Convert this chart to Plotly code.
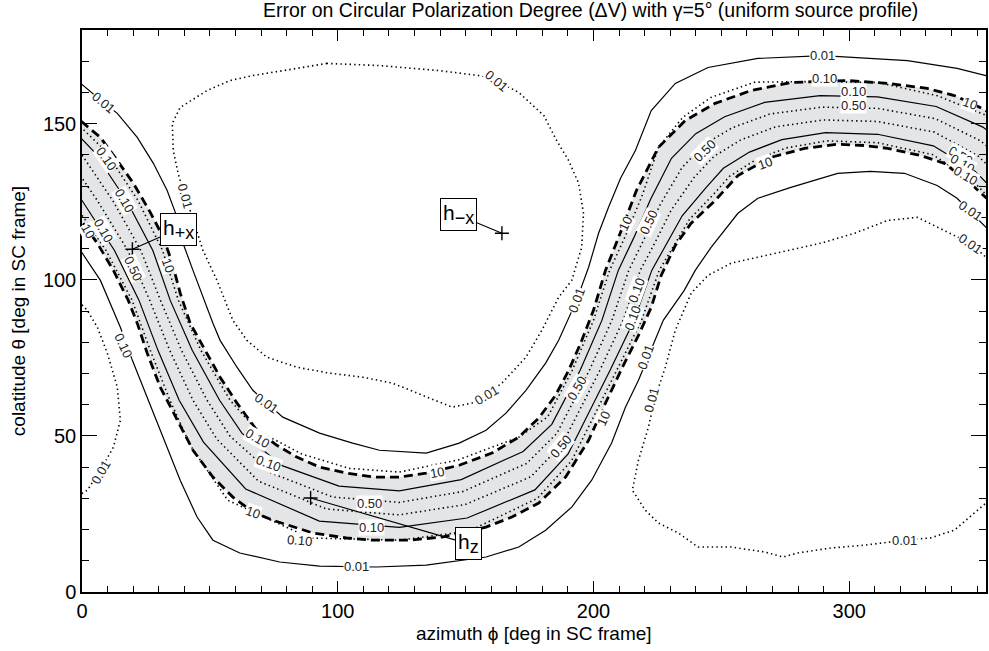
import plotly.graph_objects as go

# ---------------- data (phi [deg], theta [deg]) ----------------
# dashed "10" contours bounding the grey band
d1_phi = [-4.5, 0.2, 7.2, 13.8, 20.1, 26.7, 31.8, 35.3, 38.4, 42.3, 48.1, 54.0, 60.6, 68.4, 76.2, 84.0, 92.9, 103.4, 114.3, 124.1, 134.6, 147.5, 160.3, 170.8, 178.6, 185.2, 190.3, 195.0, 200.0, 204.7, 210.6, 216.8, 225.4, 235.9, 247.6, 261.6, 277.2, 299.4, 315.0, 330.5, 341.1, 347.3, 353.5, 361.7]
d1_theta = [153.6, 150.4, 145.6, 138.2, 130.9, 121.6, 113.6, 105.3, 95.7, 86.1, 77.4, 68.8, 60.5, 51.8, 47.0, 43.2, 40.0, 38.1, 36.8, 36.8, 38.1, 40.6, 44.5, 49.6, 55.7, 63.0, 71.0, 79.7, 90.2, 103.0, 115.2, 128.6, 142.4, 151.0, 156.5, 160.6, 163.2, 163.8, 162.9, 161.3, 159.0, 156.8, 154.2, 149.4]
d2_phi = [-6.0, 0.2, 6.0, 12.3, 18.1, 21.6, 25.5, 30.6, 37.2, 43.4, 51.2, 59.0, 66.8, 74.6, 90.2, 103.4, 113.6, 128.0, 140.8, 158.0, 168.1, 178.6, 189.1, 198.1, 204.7, 211.7, 217.6, 222.6, 226.5, 232.0, 238.2, 247.6, 256.5, 269.4, 282.6, 295.5, 306.0, 315.0, 327.8, 337.2, 347.3, 353.5, 359.8]
d2_theta = [125.4, 118.4, 111.7, 103.0, 93.4, 86.1, 76.5, 65.6, 55.0, 45.4, 36.8, 30.4, 25.6, 23.0, 18.9, 17.3, 16.6, 16.6, 17.6, 20.8, 24.0, 28.5, 36.8, 48.6, 60.5, 72.6, 82.2, 91.2, 101.4, 111.0, 118.1, 125.4, 133.4, 139.2, 142.1, 143.4, 143.0, 142.1, 139.8, 137.3, 130.9, 126.4, 121.6]

# solid contours inside the band
s1_phi = [-10.9, 4.3, 17.4, 27.7, 34.5, 43.1, 53.8, 62.6, 78.5, 100.5, 124.1, 148.3, 172.5, 183.7, 194.8, 203.3, 209.7, 215.8, 222.3, 230.5, 240.0, 251.3, 266.9, 288.6, 311.1, 334.0, 352.3, 360.4]
s1_theta = [154.2, 141.4, 125.4, 109.4, 93.4, 77.4, 61.4, 50.8, 40.4, 33.9, 32.4, 36.0, 45.0, 53.7, 71.0, 87.0, 103.0, 113.5, 125.7, 138.9, 146.8, 152.2, 156.8, 159.0, 158.6, 155.5, 148.9, 143.6]
s2_phi = [-25.8, -13.5, 0.0, 12.7, 22.3, 29.7, 38.0, 47.5, 64.0, 92.8, 124.1, 150.6, 177.1, 190.1, 206.5, 215.9, 222.8, 228.7, 234.7, 244.1, 250.8, 261.0, 273.7, 290.8, 311.1, 332.9, 349.2, 357.0]
s2_theta = [154.2, 141.4, 125.4, 109.4, 93.4, 77.4, 61.4, 48.0, 33.0, 22.7, 20.7, 23.7, 32.7, 44.2, 71.0, 87.0, 103.0, 111.7, 120.5, 129.6, 135.7, 140.9, 144.9, 147.1, 146.6, 142.9, 134.8, 128.3]

# dotted contours inside / along the band
da_phi = [-15.5, -1.2, 12.0, 23.0, 30.7, 38.9, 48.9, 57.9, 74.0, 98.1, 124.1, 149.0, 173.9, 185.7, 198.4, 207.2, 213.8, 219.8, 226.1, 234.7, 243.4, 254.3, 269.0, 289.3, 311.1, 333.7, 351.4, 359.4]
da_theta = [154.2, 141.4, 125.4, 109.4, 93.4, 77.4, 61.4, 49.9, 38.1, 30.4, 28.7, 32.2, 41.2, 50.8, 71.0, 87.0, 103.0, 113.0, 124.1, 136.0, 143.4, 148.7, 153.1, 155.3, 154.9, 151.6, 144.5, 138.9]
db_phi = [-20.7, -7.4, 6.0, 17.9, 26.5, 34.3, 43.4, 52.7, 69.0, 95.5, 124.1, 149.8, 175.5, 187.9, 202.5, 211.6, 218.3, 224.3, 230.4, 239.4, 247.1, 257.6, 271.3, 290.0, 311.1, 333.3, 350.3, 358.2]
db_theta = [154.2, 141.4, 125.4, 109.4, 93.4, 77.4, 61.4, 49.0, 35.5, 26.6, 24.7, 28.0, 36.9, 47.5, 71.0, 87.0, 103.0, 112.3, 122.3, 132.8, 139.5, 144.8, 149.0, 151.2, 150.7, 147.3, 139.7, 133.6]
dd1_phi = [-7.1, 9.0, 21.9, 31.5, 37.7, 46.5, 57.9, 68.4, 85.9, 104.5, 124.1, 147.1, 170.8, 182.1, 191.7, 200.0, 206.3, 212.5, 219.1, 225.4, 234.9, 245.9, 263.2, 287.7, 311.1, 334.3, 353.2, 361.4]
dd1_theta = [154.2, 141.4, 125.4, 109.4, 93.4, 77.4, 61.4, 51.8, 44.2, 39.6, 38.4, 42.3, 49.6, 56.1, 71.0, 87.0, 103.0, 114.0, 127.1, 142.4, 152.0, 158.4, 163.3, 163.5, 163.2, 159.0, 152.8, 147.9]
dd2_phi = [-29.2, -17.5, -3.9, 9.4, 19.6, 26.7, 34.4, 42.3, 57.0, 89.1, 124.1, 151.3, 178.1, 191.5, 209.1, 218.8, 225.7, 231.6, 237.5, 247.1, 253.3, 263.2, 275.2, 291.3, 311.1, 332.6, 348.5, 356.3]
dd2_theta = [154.2, 141.4, 125.4, 109.4, 93.4, 77.4, 61.4, 47.0, 29.4, 17.3, 16.6, 19.5, 30.0, 42.1, 71.0, 87.0, 103.0, 111.3, 119.3, 127.5, 133.2, 138.3, 142.2, 144.5, 143.9, 140.1, 131.6, 124.9]

# solid 0.01 contours outside the band
u01_phi = [-3.7, -0.6, 8.4, 13.8, 21.6, 27.9, 33.3, 37.2, 39.5, 43.4, 47.3, 51.2, 54.0, 60.6, 66.8, 72.3, 78.5, 92.9, 105.8, 116.3, 134.6, 147.5, 158.0, 165.8, 173.6, 181.3, 186.4, 193.4, 198.1, 202.0, 205.9, 210.6, 216.4, 222.6, 232.0, 244.8, 264.3, 289.6, 322.8, 342.2, 353.5, 361.7]
u01_theta = [165.1, 162.9, 156.8, 153.3, 145.6, 137.3, 128.6, 120.0, 111.7, 103.0, 94.4, 86.1, 80.6, 72.0, 64.6, 60.5, 56.0, 50.9, 47.7, 45.4, 44.5, 47.7, 51.8, 57.3, 64.6, 73.3, 80.6, 93.4, 104.0, 114.9, 123.2, 132.5, 141.4, 154.2, 162.9, 168.0, 170.9, 171.8, 170.2, 167.7, 165.4, 163.2]
l01_phi = [-3.7, -0.6, 7.2, 15.0, 19.7, 25.5, 31.8, 38.4, 45.0, 51.2, 61.7, 77.3, 92.9, 115.1, 134.6, 158.0, 170.8, 181.3, 191.5, 199.3, 207.1, 212.5, 217.6, 222.3, 227.3, 235.5, 239.8, 246.0, 256.5, 264.3, 277.2, 295.5, 308.3, 321.6, 334.4, 342.2, 353.5, 359.8]
l01_theta = [113.9, 109.4, 99.8, 84.8, 74.2, 62.4, 49.6, 35.8, 24.0, 16.6, 12.5, 9.6, 8.3, 8.0, 8.6, 11.2, 14.4, 19.8, 27.2, 35.8, 47.7, 59.2, 67.8, 77.4, 87.0, 96.6, 103.0, 110.4, 121.3, 126.1, 129.6, 134.1, 134.7, 134.1, 130.2, 126.1, 116.8, 111.0]

# dotted 0.01 contours (closed regions)
blob1_phi = [95.8, 84.0, 66.8, 57.8, 48.9, 38.4, 35.3, 35.7, 37.6, 39.5, 42.3, 47.3, 52.8, 59.0, 64.5, 72.3, 84.0, 96.8, 109.7, 121.4, 134.6, 144.7, 152.5, 158.0, 164.2, 173.6, 179.8, 186.4, 191.5, 195.4, 196.1, 194.2, 190.3, 185.6, 180.6, 170.8, 161.9, 155.2, 139.7, 116.3, 95.8]
blob1_theta = [169.3, 167.7, 165.4, 163.8, 160.6, 155.2, 150.1, 141.4, 134.1, 128.6, 122.2, 109.4, 99.8, 87.0, 80.6, 75.2, 72.0, 70.1, 68.8, 66.9, 62.4, 59.2, 60.5, 63.0, 66.9, 75.2, 83.8, 94.4, 99.8, 110.4, 121.3, 130.9, 138.2, 144.6, 152.6, 160.0, 163.8, 165.4, 167.0, 168.6, 169.3]
blob2_phi = [357.8, 353.5, 347.3, 334.4, 326.7, 315.0, 302.1, 288.9, 276.0, 263.2, 253.8, 244.8, 238.2, 232.0, 228.1, 224.2, 221.5, 217.6, 215.2, 220.3, 225.4, 233.2, 240.9, 253.8, 267.0, 274.1, 279.9, 292.8, 306.0, 321.6, 331.7, 341.1, 348.9, 353.5, 357.8]
blob2_theta = [103.0, 107.2, 111.7, 116.8, 120.0, 119.0, 114.9, 111.7, 109.4, 107.2, 105.3, 101.4, 95.7, 83.8, 72.0, 62.4, 52.8, 42.2, 32.6, 26.2, 22.1, 18.9, 14.4, 14.4, 12.8, 11.2, 12.5, 14.1, 15.0, 16.6, 17.3, 19.8, 25.3, 28.5, 32.6]
blob3_phi = [-2.5, 2.1, 6.0, 9.9, 13.8, 15.0, 12.3, 7.2, 2.1, -2.5]
blob3_theta = [94.1, 90.2, 84.8, 76.5, 65.6, 55.0, 46.4, 39.0, 32.6, 30.4]

# contour labels
lab_text = ["0.01", "0.01", "0.10", "0.10", "0.10", "10", "0.50", "10", "0.10", "0.01", "0.10", "0.10",
            "0.01", "10", "0.10", "0.01", "0.50", "0.10", "10", "0.01", "0.01", "0.50", "0.50", "10",
            "0.01", "0.01", "10", "0.50", "0.01", "0.10", "0.10", "0.50", "10", "0.01", "0.10", "0.10",
            "0.50", "10", "0.50", "0.10", "0.10", "0.01", "0.01", "0.01"]
lab_phi = [8.4, 40.3, 9.5, 16.6, 8.4, 2.5, 20.1, 33.7, 16.2, 72.3, 68.8, 73.0,
           7.2, 66.8, 85.1, 107.3, 112.4, 113.2, 138.9, 158.0, 161.9, 193.4, 187.2, 203.9,
           220.3, 222.6, 212.5, 221.5, 193.4, 216.8, 215.2, 243.6, 267.0, 289.6, 290.5, 301.5,
           301.5, 347.3, 343.4, 344.2, 345.4, 347.3, 347.3, 321.6]
lab_theta = [156.8, 127.0, 138.9, 125.4, 115.8, 115.5, 103.7, 104.6, 79.0, 60.5, 49.3, 41.3,
             38.4, 25.6, 16.6, 8.3, 28.5, 20.8, 38.4, 63.0, 163.8, 65.3, 46.7, 55.7,
             75.2, 61.4, 118.1, 118.4, 93.4, 96.6, 87.7, 141.4, 137.3, 171.8, 164.6, 160.4,
             155.8, 156.5, 139.8, 137.3, 133.4, 122.2, 111.7, 16.6]
lab_angle = [40, 75, 55, 60, 60, 60, 65, 70, 65, 35, 30, 20,
             -60, 20, 5, 0, 0, 0, -10, -30, 40, -60, -50, -65,
             -70, -75, -65, -65, -70, -70, -70, -45, -20, 0, 0, 0,
             0, 20, 30, 30, 30, 35, 35, 0]

# source directions (markers) and their label boxes
src_main = ["h", "h", "h"]
src_sub = ["+x", "\u2212x", "z"]
src_phi = [19.7, 164.2, 89.4]
src_theta = [109.8, 114.9, 30.1]
box_phi = [37.6, 147.1, 151.2]
box_theta = [116.2, 120.8, 15.4]

FONT = "Liberation Sans, Arial, sans-serif"

fig = go.Figure()

# grey band between the dashed contours
fig.add_trace(go.Scatter(x=d1_phi + d2_phi[::-1], y=d1_theta + d2_theta[::-1], mode="lines",
                         fill="toself", fillcolor="#e4e5e6", line=dict(width=0),
                         hoverinfo="skip", showlegend=False))

solid = dict(color="black", width=1.2)
dotted = dict(color="black", width=1.6, dash="1.4px,3.2px")
dashed = dict(color="black", width=2.8, dash="9px,5px")

for xs, ys, st in [
    (u01_phi, u01_theta, solid), (l01_phi, l01_theta, solid),
    (blob1_phi, blob1_theta, dotted), (blob2_phi, blob2_theta, dotted), (blob3_phi, blob3_theta, dotted),
    (dd1_phi, dd1_theta, dotted), (dd2_phi, dd2_theta, dotted),
    (da_phi, da_theta, dotted), (db_phi, db_theta, dotted),
    (s1_phi, s1_theta, solid), (s2_phi, s2_theta, solid),
    (d1_phi, d1_theta, dashed), (d2_phi, d2_theta, dashed),
]:
    fig.add_trace(go.Scatter(x=xs, y=ys, mode="lines", line=st, hoverinfo="skip", showlegend=False))

fig.add_trace(go.Scatter(x=src_phi, y=src_theta, mode="markers",
                         marker=dict(symbol="cross-thin", size=10, line=dict(width=1.4, color="black")),
                         hoverinfo="skip", showlegend=False))

annotations = []
for t, px, py, a in zip(lab_text, lab_phi, lab_theta, lab_angle):
    annotations.append(dict(x=px, y=py, xref="x", yref="y", text=t, showarrow=False, textangle=a,
                            font=dict(family=FONT, size=13, color="#222222"), bgcolor="white", borderpad=0))

for m, s, sx, sy, bx, by in zip(src_main, src_sub, src_phi, src_theta, box_phi, box_theta):
    annotations.append(dict(x=sx, y=sy, xref="x", yref="y", ax=bx, ay=by, axref="x", ayref="y",
                            text=m + "<sub><span style='font-size:18px'>" + s + "</span></sub>",
                            showarrow=True, arrowhead=0, arrowwidth=1.1, arrowcolor="black",
                            standoff=0, font=dict(family=FONT, size=21, color="black"),
                            bgcolor="white", bordercolor="black", borderwidth=1, borderpad=2))

annotations.append(dict(x=0.563, y=1.036, xref="paper", yref="paper", showarrow=False,
                        xanchor="center", yanchor="middle",
                        text="Error on Circular Polarization Degree (\u0394V) with \u03b3=5\u00b0 (uniform source profile)",
                        font=dict(family=FONT, size=19.5, color="black")))
annotations.append(dict(x=0.5, y=-0.073, xref="paper", yref="paper", showarrow=False,
                        xanchor="center", yanchor="middle",
                        text="azimuth \u03d5 [deg in SC frame]", font=dict(family=FONT, size=19, color="black")))
annotations.append(dict(x=-0.0706, y=0.5, xref="paper", yref="paper", showarrow=False, textangle=-90,
                        xanchor="center", yanchor="middle",
                        text="colatitude \u03b8 [deg in SC frame]", font=dict(family=FONT, size=19, color="black")))

fig.update_layout(
    width=989, height=651, margin=dict(l=82, r=1, t=30, b=59),
    paper_bgcolor="white", plot_bgcolor="white",
    font=dict(family=FONT, size=20, color="black"),
    annotations=annotations,
    xaxis=dict(range=[0, 353.5], tickmode="array", tickvals=[0, 100, 200, 300], ticks="inside", ticklen=11,
               tickwidth=1.2, tickcolor="black", showline=True, linecolor="black", linewidth=1.5,
               mirror="allticks", showgrid=False, zeroline=False,
               minor=dict(dtick=10, tick0=0, ticks="inside", ticklen=6, tickwidth=1, tickcolor="black", showgrid=False),
               tickfont=dict(size=20)),
    yaxis=dict(range=[0, 180], tickmode="array", tickvals=[0, 50, 100, 150], ticks="inside", ticklen=15,
               tickwidth=1.2, tickcolor="black", showline=True, linecolor="black", linewidth=1.5,
               mirror="allticks", showgrid=False, zeroline=False,
               minor=dict(dtick=10, tick0=0, ticks="inside", ticklen=7, tickwidth=1, tickcolor="black", showgrid=False),
               tickfont=dict(size=20)),
)

fig.write_html("out.html")
